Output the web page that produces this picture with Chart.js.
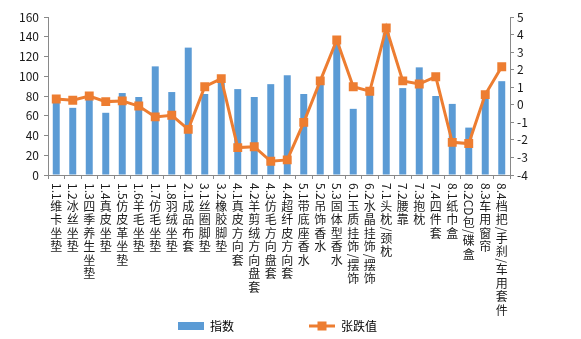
<!DOCTYPE html>
<html lang="zh">
<head>
<meta charset="UTF-8">
<title>指数与涨跌值</title>
<style>
  html, body { margin: 0; padding: 0; background: #fff; }
  canvas { display: block; }
</style>
</head>
<body>
<canvas id="Chart" width="581" height="339"></canvas>

<script src="https://cdn.jsdelivr.net/npm/chart.js"></script>
<script>
// 品类
const categories = [
  '1.1维卡坐垫', '1.2冰丝坐垫', '1.3四季养生坐垫', '1.4真皮坐垫', '1.5仿皮革坐垫',
  '1.6羊毛坐垫', '1.7仿毛坐垫', '1.8羽绒坐垫', '2.1成品布套', '3.1丝圈脚垫',
  '3.2橡胶脚垫', '4.1真皮方向套', '4.2羊剪绒方向盘套', '4.3仿毛方向盘套', '4.4超纤皮方向套',
  '5.1带底座香水', '5.2吊饰香水', '5.3固体型香水', '6.1玉质挂饰/摆饰', '6.2水晶挂饰/摆饰',
  '7.1头枕/颈枕', '7.2腰靠', '7.3抱枕', '7.4四件套', '8.1纸巾盒',
  '8.2CD包/碟盒', '8.3车用窗帘', '8.4档把/手刹/车用套件'
];
// 指数 (左轴)
const indexValues = [
  74, 68, 77, 63, 83, 79, 110, 84, 129, 82,
  95, 87, 79, 92, 101, 82, 94, 135, 67, 83,
  144, 88, 109, 80, 72, 48, 80, 95
];
// 张跌值 (右轴)
const changeValues = [
  0.33, 0.26, 0.5, 0.18, 0.22, -0.07, -0.69, -0.6, -1.4, 1.03,
  1.49, -2.44, -2.39, -3.22, -3.14, -1.0, 1.36, 3.69, 1.03, 0.77,
  4.37, 1.36, 1.18, 1.6, -2.14, -2.21, 0.58, 2.17
];
const seriesNames = ['指数', '张跌值'];
const leftAxis = { min: 0, max: 160, step: 20 };
const rightAxis = { min: -4, max: 5, step: 1 };

const BLUE = '#5B9BD5';
const ORANGE = '#ED7D31';
const AXIS = '#898989';
const FONT = '"Noto Sans CJK SC", "Noto Sans", sans-serif';

// 图例小图标
function legendIcon(kind) {
  const c = document.createElement('canvas');
  c.width = 26; c.height = 10;
  const g = c.getContext('2d');
  if (kind === 'bar') {
    g.fillStyle = BLUE;
    g.fillRect(0, 1, 26, 8);
  } else {
    g.fillStyle = ORANGE;
    g.fillRect(0, 3.5, 26, 3);
    g.fillRect(8.5, 0.5, 9, 9);
  }
  return c;
}

// 竖排文字标签：数字/字母旋转，汉字直立
const verticalLabels = {
  id: 'verticalLabels',
  afterDraw(chart) {
    const ctx = chart.ctx;
    const xs = chart.scales.x;
    ctx.save();
    ctx.fillStyle = '#1a1a1a';
    ctx.font = '12px ' + FONT;
    categories.forEach((label, i) => {
      const x = xs.getPixelForTick(i);
      let y = chart.chartArea.bottom + 8;
      const runs = label.match(/[\x00-\xff]+|[^\x00-\xff]/g);
      runs.forEach(run => {
        if (/^[\x00-\xff]+$/.test(run)) {
          const w = ctx.measureText(run).width;
          ctx.save();
          ctx.translate(x, y);
          ctx.rotate(Math.PI / 2);
          ctx.textAlign = 'left';
          ctx.textBaseline = 'middle';
          ctx.fillText(run, 0, 0);
          ctx.restore();
          y += w;
        } else {
          ctx.textAlign = 'center';
          ctx.textBaseline = 'middle';
          ctx.fillText(run, x, y + 6.75);
          y += 13.5;
        }
      });
    });
    ctx.restore();
  }
};

new Chart(document.getElementById('Chart').getContext('2d'), {
  type: 'bar',
  data: {
    labels: categories,
    datasets: [{
      type: 'line',
      label: seriesNames[1],
      data: changeValues,
      yAxisID: 'y1',
      borderColor: ORANGE,
      backgroundColor: ORANGE,
      borderWidth: 3,
      pointStyle: 'rect',
      pointRadius: 6.3,
      pointBorderWidth: 0,
      tension: 0,
      order: 1
    }, {
      type: 'bar',
      label: seriesNames[0],
      data: indexValues,
      yAxisID: 'y',
      backgroundColor: BLUE,
      categoryPercentage: 0.9,
      barPercentage: 0.47,
      order: 2
    }]
  },
  options: {
    responsive: false,
    animation: false,
    layout: { padding: { top: 17, left: 0, right: 26, bottom: -3 } },
    plugins: {
      tooltip: { enabled: false },
      legend: {
        position: 'bottom',
        labels: {
          usePointStyle: true,
          pointStyleWidth: 26,
          padding: 15,
          color: '#1a1a1a',
          font: { size: 12, family: FONT },
          generateLabels: () => [
            { text: seriesNames[0] + '\u3000\u3000\u3000\u3000\u3000', pointStyle: legendIcon('bar'),
              fillStyle: BLUE, strokeStyle: BLUE, lineWidth: 0, datasetIndex: 1 },
            { text: seriesNames[1], pointStyle: legendIcon('line'),
              fillStyle: ORANGE, strokeStyle: ORANGE, lineWidth: 0, datasetIndex: 0 }
          ]
        }
      }
    },
    scales: {
      x: {
        grid: { display: true, drawOnChartArea: false, drawTicks: true, tickLength: 4, color: AXIS, offset: true },
        border: { color: AXIS },
        ticks: { display: false },
        afterFit: s => { s.height = 130; }
      },
      y: {
        position: 'left',
        min: leftAxis.min, max: leftAxis.max,
        ticks: { stepSize: leftAxis.step, padding: 5, color: '#1a1a1a', font: { size: 12, family: FONT } },
        grid: { drawOnChartArea: false, tickLength: 4, color: AXIS },
        border: { color: AXIS },
        afterFit: s => { s.width = 48; }
      },
      y1: {
        position: 'right',
        min: rightAxis.min, max: rightAxis.max,
        ticks: { stepSize: rightAxis.step, padding: 3, color: '#1a1a1a', font: { size: 12, family: FONT } },
        grid: { drawOnChartArea: false, tickLength: 4, color: AXIS },
        border: { color: AXIS },
        afterFit: s => { s.width = 45; }
      }
    }
  },
  plugins: [verticalLabels]
});
</script>
</body>
</html>
